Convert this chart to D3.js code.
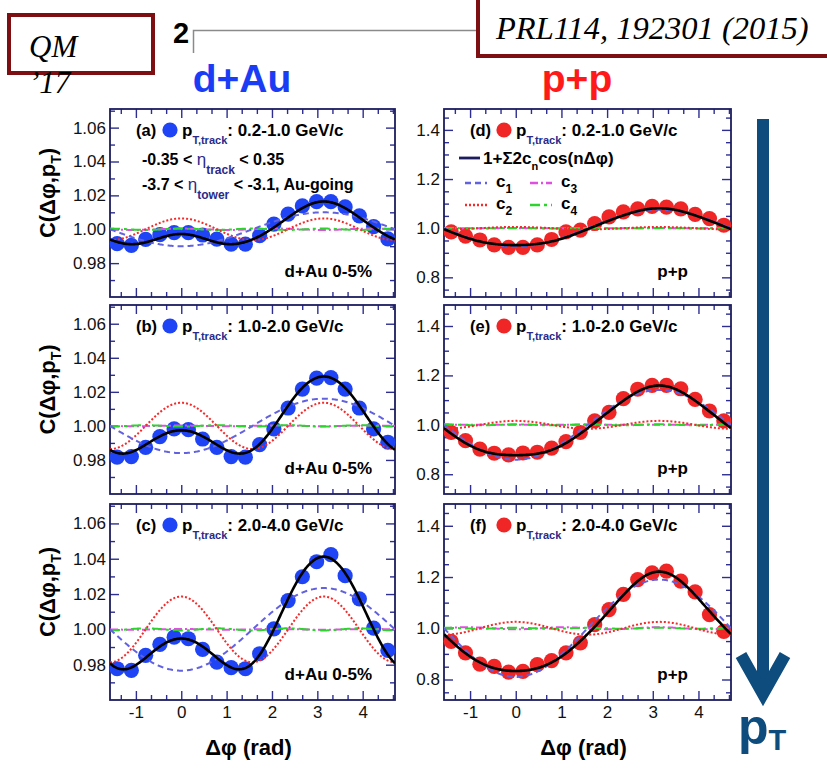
<!DOCTYPE html>
<html>
<head>
<meta charset="utf-8">
<script src="https://cdn.jsdelivr.net/npm/d3@7"></script>
<style>
  body { margin: 0; background: #fff; }
  svg { display: block; font-family: "Liberation Sans", Arial, Helvetica, sans-serif; }
</style>
</head>
<body>
<svg id="chart" width="827" height="769"></svg>
<script>
// ---- data -------------------------------------------------------------
// Δφ bin centres (rad), 20 bins over [-π/2, 3π/2]
const dphi = [-1.414, -1.100, -0.785, -0.471, -0.157, 0.157, 0.471, 0.785, 1.100, 1.414,
              1.728, 2.042, 2.356, 2.670, 2.985, 3.299, 3.613, 3.927, 4.241, 4.555];

// d+Au 0-5%, C(Δφ, pT)
const dAu_02_10 = [0.9915, 0.9905, 0.9940, 0.9968, 0.9980, 0.9980, 0.9966, 0.9942, 0.9912, 0.9912,
                   0.9962, 1.0030, 1.0089, 1.0138, 1.0163, 1.0163, 1.0132, 1.0079, 1.0015, 0.9943];
const dAu_10_20 = [0.9816, 0.9820, 0.9874, 0.9937, 0.9982, 0.9978, 0.9923, 0.9874, 0.9820, 0.9816,
                   0.9890, 0.9982, 1.0105, 1.0216, 1.0280, 1.0284, 1.0216, 1.0105, 0.9982, 0.9904];
const dAu_20_40 = [0.9777, 0.9768, 0.9853, 0.9915, 0.9956, 0.9947, 0.9887, 0.9815, 0.9783, 0.9777,
                   0.9862, 1.0003, 1.0163, 1.0298, 1.0383, 1.0423, 1.0304, 1.0173, 1.0007, 0.9881];

// p+p, C(Δφ, pT)
const pp_02_10 = [0.985, 0.968, 0.952, 0.932, 0.922, 0.922, 0.932, 0.954, 0.985, 0.992,
                  1.019, 1.046, 1.066, 1.079, 1.089, 1.086, 1.079, 1.056, 1.039, 1.012];
const pp_10_20 = [0.969, 0.936, 0.902, 0.885, 0.878, 0.886, 0.889, 0.906, 0.932, 0.969,
                  1.016, 1.050, 1.106, 1.144, 1.160, 1.160, 1.146, 1.103, 1.056, 1.016];
const pp_20_40 = [0.949, 0.904, 0.860, 0.851, 0.829, 0.832, 0.858, 0.874, 0.904, 0.943,
                  1.014, 1.073, 1.132, 1.190, 1.216, 1.223, 1.184, 1.142, 1.053, 0.988];

// Fourier coefficients of 1 + Σ 2 c_n cos(nΔφ), panels (a)…(f)
const c1Fit = [-0.0050, -0.0080, -0.0117, -0.0375, -0.0705, -0.0950];
const c2Fit = [ 0.0032,  0.0068,  0.0093,  0.0025,  0.0080,  0.0125];
const c3Fit = [ 0.0002,  0.0001,  0.0001,  0.0000,  0.0000, -0.0020];
const c4Fit = [ 0.0002, -0.0002, -0.0003,  0.0005,  0.0010,  0.0010];

const panelTags = ["(a)", "(b)", "(c)", "(d)", "(e)", "(f)"];
const ptRanges  = ["0.2-1.0 GeV/c", "1.0-2.0 GeV/c", "2.0-4.0 GeV/c",
                   "0.2-1.0 GeV/c", "1.0-2.0 GeV/c", "2.0-4.0 GeV/c"];
const systemTags = ["d+Au 0-5%", "p+p"];

// axis ticks
const xTicks = [-1, 0, 1, 2, 3, 4];
const xTickLabels = ["-1", "0", "1", "2", "3", "4"];
const xMinorTicks = [-1.333, -0.667, -0.333, 0.333, 0.667, 1.333, 1.667, 2.333, 2.667,
                     3.333, 3.667, 4.333, 4.667];
const yTicksDAu = [0.98, 1.00, 1.02, 1.04, 1.06];
const yMinorDAu = [0.97, 0.99, 1.01, 1.03, 1.05, 1.07];
const yTicksPP = [0.8, 1.0, 1.2, 1.4];
const yMinorPP = [0.75, 0.85, 0.9, 0.95, 1.05, 1.1, 1.15, 1.25, 1.3, 1.35, 1.45];

// ---- layout -----------------------------------------------------------
const svg = d3.select("#chart");
const colX = [[110, 395], [444, 731]];
const rowY = [[109, 297], [305, 494], [504, 700]];
const xDomain = [-Math.PI / 2, 3 * Math.PI / 2];
const yDomains = [[0.96, 1.071], [0.72, 1.485]];

const frameColor = "#1c1c5e";
const tickColor = "#2e2e92";
const subColor = "#2a2a8a";
const blueMarker = "#1f44f5";
const redMarker = "#f02626";

const styles = {
  fit: { stroke: "#000", width: 2.6, dash: null },
  c1:  { stroke: "#6262e0", width: 2, dash: "6,4" },
  c2:  { stroke: "#f52a2a", width: 2, dash: "2,2" },
  c3:  { stroke: "#e050e0", width: 2, dash: "8,3,2,3" },
  c4:  { stroke: "#2ed42e", width: 2, dash: "10,4,3,4" }
};

const panels = [
  { col: 0, row: 0, values: dAu_02_10 },
  { col: 0, row: 1, values: dAu_10_20 },
  { col: 0, row: 2, values: dAu_20_40 },
  { col: 1, row: 0, values: pp_02_10 },
  { col: 1, row: 1, values: pp_10_20 },
  { col: 1, row: 2, values: pp_20_40 }
];

const curveSamples = d3.range(xDomain[0], xDomain[1] + 1e-9, (xDomain[1] - xDomain[0]) / 300);

panels.forEach((p, i) => {
  const [x0, x1] = colX[p.col];
  const [y0, y1] = rowY[p.row];
  const x = d3.scaleLinear().domain(xDomain).range([x0, x1]);
  const y = d3.scaleLinear().domain(yDomains[p.col]).range([y1, y0]);
  const g = svg.append("g");

  const clipId = "clip" + i;
  svg.append("clipPath").attr("id", clipId)
    .append("rect").attr("x", x0).attr("y", y0).attr("width", x1 - x0).attr("height", y1 - y0);

  // axes: inward ticks on all four sides
  const majY = p.col === 0 ? yTicksDAu : yTicksPP;
  const minY = p.col === 0 ? yMinorDAu : yMinorPP;
  const fmtY = p.col === 0 ? d3.format(".2f") : d3.format(".1f");

  const addAxis = (axis, tx, ty) => {
    const a = g.append("g").attr("transform", `translate(${tx},${ty})`).call(axis);
    a.select(".domain").remove();
    a.selectAll("line").attr("stroke", tickColor).attr("stroke-width", 1.4);
    a.selectAll("text").attr("font-family", "Liberation Sans, Arial, sans-serif")
      .attr("font-size", 17).attr("fill", "#111");
    return a;
  };
  addAxis(d3.axisLeft(y).tickValues(majY).tickSize(-9).tickPadding(4).tickFormat(fmtY), x0, 0);
  addAxis(d3.axisLeft(y).tickValues(minY).tickSize(-5).tickFormat(""), x0, 0);
  addAxis(d3.axisRight(y).tickValues(majY).tickSize(-9).tickFormat(""), x1, 0);
  addAxis(d3.axisRight(y).tickValues(minY).tickSize(-5).tickFormat(""), x1, 0);
  addAxis(d3.axisBottom(x).tickValues(xTicks).tickSize(-9).tickPadding(6)
    .tickFormat((d, k) => p.row === 2 ? xTickLabels[k] : ""), 0, y1);
  addAxis(d3.axisBottom(x).tickValues(xMinorTicks).tickSize(-5).tickFormat(""), 0, y1);
  addAxis(d3.axisTop(x).tickValues(xTicks).tickSize(-9).tickFormat(""), 0, y0);
  addAxis(d3.axisTop(x).tickValues(xMinorTicks).tickSize(-5).tickFormat(""), 0, y0);

  g.append("rect").attr("x", x0).attr("y", y0).attr("width", x1 - x0).attr("height", y1 - y0)
    .attr("fill", "none").attr("stroke", frameColor).attr("stroke-width", 1.8);

  // data points
  const mColor = p.col === 0 ? blueMarker : redMarker;
  g.append("g").selectAll("circle").data(p.values).join("circle")
    .attr("cx", (d, k) => x(dphi[k])).attr("cy", d => y(d)).attr("r", 7.6)
    .attr("fill", mColor);

  // Fourier components and total fit
  const c = [c1Fit[i], c2Fit[i], c3Fit[i], c4Fit[i]];
  const comp = n => t => 1 + 2 * c[n - 1] * Math.cos(n * t);
  const total = t => 1 + c.reduce((s, cn, k) => s + 2 * cn * Math.cos((k + 1) * t), 0);
  const curves = [
    { f: comp(3), s: styles.c3 },
    { f: comp(4), s: styles.c4 },
    { f: comp(2), s: styles.c2 },
    { f: comp(1), s: styles.c1 },
    { f: total,   s: styles.fit }
  ];
  const line = d3.line().x(d => x(d[0])).y(d => y(d[1]));
  const cg = g.append("g").attr("clip-path", `url(#${clipId})`);
  curves.forEach(cv => {
    cg.append("path").attr("d", line(curveSamples.map(t => [t, cv.f(t)])))
      .attr("fill", "none").attr("stroke", cv.s.stroke).attr("stroke-width", cv.s.width)
      .attr("stroke-dasharray", cv.s.dash);
  });

  // panel legend: tag, marker, pT range
  const lx = x0, ly = y0;
  g.append("text").attr("x", lx + 26).attr("y", ly + 27).attr("font-size", 16.5)
    .attr("font-weight", "bold").text(panelTags[i]);
  g.append("circle").attr("cx", lx + 60).attr("cy", ly + 21).attr("r", 7.6).attr("fill", mColor);
  const t = g.append("text").attr("x", lx + 72).attr("y", ly + 27)
    .attr("font-size", 17).attr("font-weight", "bold");
  t.append("tspan").text("p");
  t.append("tspan").attr("dy", 8).attr("font-size", 11).attr("fill", subColor).text("T,track");
  t.append("tspan").attr("dy", -8).text(": " + ptRanges[i]);

  // system label
  g.append("text").attr("x", p.col === 0 ? x0 + 262 : x0 + 244).attr("y", y1 - 20)
    .attr("text-anchor", "end").attr("font-size", 17).attr("font-weight", "bold")
    .text(systemTags[p.col]);

  // y-axis title
  if (p.col === 0) {
    const cy = (y0 + y1) / 2 - 10;
    const yt = g.append("text").attr("transform", `translate(55,${cy}) rotate(-90)`)
      .attr("text-anchor", "middle").attr("font-size", 22).attr("font-weight", "bold");
    yt.append("tspan").text("C(Δφ,p");
    yt.append("tspan").attr("dy", 6).attr("font-size", 14).text("T");
    yt.append("tspan").attr("dy", -6).text(")");
  }
  // x-axis title
  if (p.row === 2) {
    g.append("text").attr("x", (x0 + x1) / 2 - 4).attr("y", 755).attr("text-anchor", "middle")
      .attr("font-size", 22).attr("font-weight", "bold").text("Δφ (rad)");
  }
});

// pseudorapidity selections in panel (a)
(function () {
  const x0 = colX[0][0], y0 = rowY[0][0];
  const rows = [
    { pre: "-0.35 < ", sub: "track", post: " < 0.35", y: y0 + 56 },
    { pre: "-3.7 < ", sub: "tower", post: " < -3.1, Au-going", y: y0 + 81 }
  ];
  rows.forEach(r => {
    const t = svg.append("text").attr("x", x0 + 32).attr("y", r.y)
      .attr("font-size", 16).attr("font-weight", "bold");
    t.append("tspan").text(r.pre);
    t.append("tspan").attr("font-weight", "normal").attr("fill", subColor)
      .attr("font-size", 17).text("η");
    t.append("tspan").attr("dy", 9).attr("font-size", 12).attr("fill", subColor).text(r.sub);
    t.append("tspan").attr("dy", -9).text(r.post);
  });
})();

// fit legend in panel (d)
(function () {
  const x0 = colX[1][0], y0 = rowY[0][0];
  const g = svg.append("g").attr("font-weight", "bold").attr("font-size", 17);
  const seg = (xa, xb, yy, s) => g.append("line").attr("x1", xa).attr("x2", xb)
    .attr("y1", yy).attr("y2", yy).attr("stroke", s.stroke).attr("stroke-width", s.width + 0.4)
    .attr("stroke-dasharray", s.dash);
  seg(x0 + 15, x0 + 36, y0 + 49, { stroke: "#1c1c5e", width: 2.4, dash: null });
  const t = g.append("text").attr("x", x0 + 39).attr("y", y0 + 55);
  t.append("tspan").text("1+Σ2c");
  t.append("tspan").attr("dy", 6).attr("font-size", 11).text("n");
  t.append("tspan").attr("dy", -6).text("cos(nΔφ)");
  const items = [
    { s: styles.c1, n: "1", xx: 21, yy: 74 },
    { s: styles.c3, n: "3", xx: 86, yy: 74 },
    { s: styles.c2, n: "2", xx: 21, yy: 96 },
    { s: styles.c4, n: "4", xx: 86, yy: 96 }
  ];
  items.forEach(it => {
    seg(x0 + it.xx, x0 + it.xx + 22, y0 + it.yy, it.s);
    const tt = g.append("text").attr("x", x0 + it.xx + 31).attr("y", y0 + it.yy + 4);
    tt.append("tspan").text("c");
    tt.append("tspan").attr("dy", 6).attr("font-size", 12).text(it.n);
  });
})();

// ---- header annotations -------------------------------------------------
svg.append("rect").attr("x", 9).attr("y", 15).attr("width", 144).attr("height", 58)
  .attr("fill", "#fff").attr("stroke", "#7d0f12").attr("stroke-width", 4);
svg.append("text").attr("x", 29).attr("y", 57).attr("font-family", "Liberation Serif, serif")
  .attr("font-style", "italic").attr("font-size", 31).text("QM");
svg.append("text").attr("x", 29).attr("y", 93).attr("font-family", "Liberation Serif, serif")
  .attr("font-style", "italic").attr("font-size", 31).text("’17");

svg.append("text").attr("x", 173).attr("y", 43).attr("font-size", 29).attr("font-weight", "bold").text("2");
svg.append("path").attr("d", "M193.5,53 V30.5 H478").attr("fill", "none")
  .attr("stroke", "#8a8a8a").attr("stroke-width", 1.5);

svg.append("rect").attr("x", 478).attr("y", -6).attr("width", 360).attr("height", 62)
  .attr("fill", "#fff").attr("stroke", "#7d0f12").attr("stroke-width", 4);
svg.append("text").attr("x", 496).attr("y", 39).attr("font-family", "Liberation Serif, serif")
  .attr("font-style", "italic").attr("font-size", 32.5).text("PRL114, 192301 (2015)");

svg.append("text").attr("x", 242).attr("y", 92).attr("text-anchor", "middle")
  .attr("font-size", 39).attr("font-weight", "bold").attr("fill", "#1b3cf5").text("d+Au");
svg.append("text").attr("x", 577).attr("y", 92).attr("text-anchor", "middle")
  .attr("font-size", 39).attr("font-weight", "bold").attr("fill", "#ff1a1a").text("p+p");

// pT arrow
const arrowColor = "#0e4c7d";
svg.append("line").attr("x1", 763).attr("x2", 763).attr("y1", 119).attr("y2", 690)
  .attr("stroke", arrowColor).attr("stroke-width", 12);
svg.append("path").attr("d", "M741,655 L763,694 L785,655").attr("fill", "none")
  .attr("stroke", arrowColor).attr("stroke-width", 12).attr("stroke-linejoin", "miter");
const pt = svg.append("text").attr("x", 738).attr("y", 744).attr("font-size", 50)
  .attr("font-weight", "bold").attr("fill", arrowColor);
pt.append("tspan").text("p");
pt.append("tspan").attr("dy", 6).attr("font-size", 29).text("T");
</script>
</body>
</html>
